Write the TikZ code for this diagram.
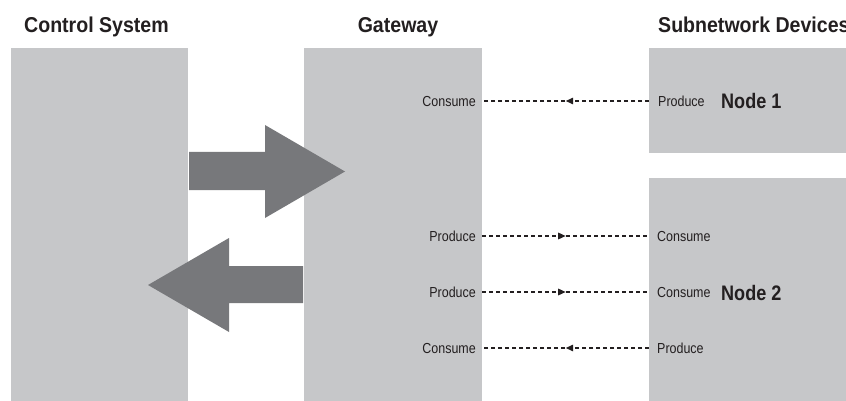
\documentclass[tikz,border=0pt]{standalone}
\usepackage{fontspec}
\setmainfont{Liberation Sans}
\newfontfamily\labfont{Liberation Sans}[FakeStretch=0.86]
\newfontfamily\headfont{Liberation Sans}[FakeStretch=0.91]
\newfontfamily\nodefont{Liberation Sans}[FakeStretch=0.86]
\usetikzlibrary{arrows.meta,decorations.markings}
\definecolor{boxgray}{HTML}{C6C7C9}
\definecolor{arrgray}{HTML}{77787B}
\definecolor{ink}{HTML}{231F20}
\tikzset{
  panel/.style={fill=boxgray,draw=none,inner sep=0pt,anchor=north west},
  head/.style={inner sep=0pt,text=ink,font=\headfont\bfseries\fontsize{21.5}{23}\selectfont},
  nodelab/.style={inner sep=0pt,text=ink,font=\nodefont\bfseries\fontsize{21}{23}\selectfont},
  iolab/.style={inner sep=0pt,text=ink,font=\labfont\fontsize{14.5}{16}\selectfont},
  link/.style={draw=ink,line width=1.4pt,dash pattern=on 4pt off 3pt,
    postaction={decorate},
    decoration={markings,mark=at position 0.5 with {\arrow{Triangle[length=7.5pt,width=6.5pt]}}}},
  bigarrow/.style={fill=arrgray,draw=none}
}
\begin{document}
\begin{tikzpicture}[x=1pt,y=-1pt]
\useasboundingbox (0,0) rectangle (846,401);
% panels
\node[panel,minimum width=177pt,minimum height=356pt] (cs) at (11,48) {};
\node[panel,minimum width=178pt,minimum height=356pt] (gw) at (304,48) {};
\node[panel,minimum width=200pt,minimum height=105pt] (n1) at (649,48) {};
\node[panel,minimum width=200pt,minimum height=226pt] (n2) at (649,178) {};
% headers
\node[head,anchor=base west] (hcs) at (24,33) {Control System};
\node[head,anchor=base] (hgw) at (398,33) {Gateway};
\node[head,anchor=base west] (hsub) at (658,33) {Subnetwork Devices};
% big arrows
\fill[bigarrow] (189,152) -- (265,152) -- (265,125) -- (345,171.5) -- (265,218) -- (265,190) -- (189,190) -- cycle;
\fill[bigarrow] (303,266) -- (229,266) -- (229,238) -- (148,285) -- (229,332) -- (229,303) -- (303,303) -- cycle;
% row coordinates
\coordinate (r1) at (0,101);
\coordinate (r2) at (0,236);
\coordinate (r3) at (0,292);
\coordinate (r4) at (0,348);
% gateway labels
\node[iolab,anchor=base east] (g1) at (476,106.5) {Consume};
\node[iolab,anchor=base east] (g2) at (476,241.5) {Produce};
\node[iolab,anchor=base east] (g3) at (476,297.5) {Produce};
\node[iolab,anchor=base east] (g4) at (476,353.5) {Consume};
% device labels
\node[iolab,anchor=base west] (d1) at (658,106.5) {Produce};
\node[iolab,anchor=base west] (d2) at (657,241.5) {Consume};
\node[iolab,anchor=base west] (d3) at (657,297.5) {Consume};
\node[iolab,anchor=base west] (d4) at (657,353.5) {Produce};
\node[nodelab,anchor=base west] (lab1) at (721,109) {Node 1};
\node[nodelab,anchor=base west] (lab2) at (721,300) {Node 2};
% connectors
\draw[link] (n1.west |- r1) -- (gw.east |- r1);
\draw[link] (gw.east |- r2) -- (n2.west |- r2);
\draw[link] (gw.east |- r3) -- (n2.west |- r3);
\draw[link] (n2.west |- r4) -- (gw.east |- r4);
\end{tikzpicture}
\end{document}
